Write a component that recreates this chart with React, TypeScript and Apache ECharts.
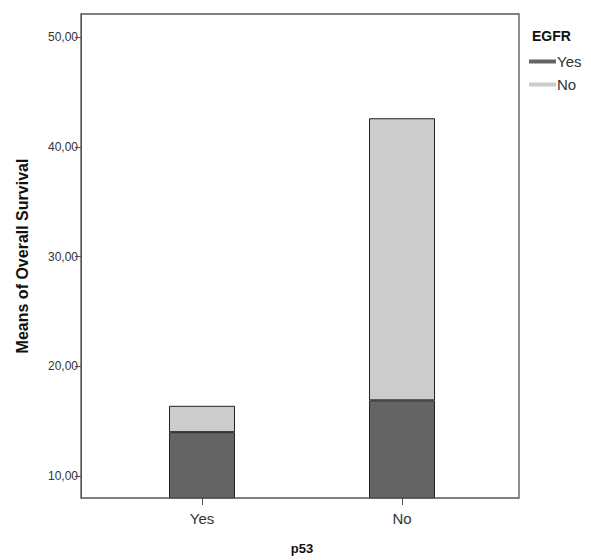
import React, { useEffect, useRef } from "react";
import * as echarts from "echarts";

const categories = ["Yes", "No"];
const egfrYes = [14.0, 16.9];
const egfrNo = [2.4, 25.7];
const legendNames = ["Yes", "No"];
const yTicks = [10, 20, 30, 40, 50];

export default function App() {
  const ref = useRef<HTMLDivElement>(null);
  useEffect(() => {
    if (!ref.current) return;
    const chart = echarts.init(ref.current, null, { renderer: "svg" });
    const font = "'Liberation Sans', Arial, sans-serif";
    chart.setOption({
      animation: false,
      textStyle: { fontFamily: font },
      title: {
        text: "EGFR",
        left: 527,
        top: 24,
        textStyle: { fontSize: 14, fontWeight: "bold", color: "#111", fontFamily: font },
      },
      legend: {
        data: legendNames.map((n) => ({ name: n, icon: "rect" })),
        orient: "vertical",
        left: 524,
        top: 49,
        itemWidth: 27,
        itemHeight: 4,
        itemGap: 8,
        itemStyle: { borderWidth: 0 },
        textStyle: { fontSize: 15, color: "#333", fontFamily: font, padding: [0, 0, 0, -4] },
      },
      grid: { left: 102, right: 89, top: 14, bottom: 62 },
      xAxis: {
        type: "category",
        data: categories,
        name: "p53",
        nameLocation: "middle",
        nameGap: 44,
        nameTextStyle: { fontSize: 13, fontWeight: "bold", color: "#111", fontFamily: font },
        axisLine: { show: false },
        axisTick: { show: true, alignWithLabel: true, length: 7, lineStyle: { color: "#555" } },
        axisLabel: { fontSize: 15, color: "#333", margin: 13, fontFamily: font },
      },
      yAxis: {
        type: "value",
        min: 8,
        max: 52.1,
        offset: 21,
        name: "Means of Overall Survival",
        nameLocation: "middle",
        nameGap: 51,
        nameTextStyle: { fontSize: 16, fontWeight: "bold", color: "#111", fontFamily: font },
        splitLine: { show: false },
        axisLine: { show: true, lineStyle: { color: "#555" } },
        axisTick: { show: true, length: 6, customValues: yTicks, lineStyle: { color: "#555" } },
        axisLabel: {
          fontSize: 12,
          color: "#333",
          margin: 3,
          customValues: yTicks,
          formatter: (v: number) => v.toFixed(2).replace(".", ","),
          fontFamily: font,
        },
      },
      graphic: [
        {
          type: "rect",
          shape: { x: 81, y: 14, width: 438, height: 484 },
          style: { fill: "none", stroke: "#555", lineWidth: 1.3 },
          z: 100,
          silent: true,
        },
      ],
      series: [
        {
          name: legendNames[0],
          type: "bar",
          stack: "s",
          data: egfrYes,
          barWidth: 66,
          itemStyle: { color: "#646464", borderColor: "#222", borderWidth: 1 },
        },
        {
          name: legendNames[1],
          type: "bar",
          stack: "s",
          data: egfrNo,
          barWidth: 66,
          itemStyle: { color: "#cccccc", borderColor: "#222", borderWidth: 1 },
        },
      ],
    });
    return () => chart.dispose();
  }, []);
  return <div ref={ref} style={{ width: 591, height: 560, position: "absolute", left: 0, top: 0 }} />;
}
